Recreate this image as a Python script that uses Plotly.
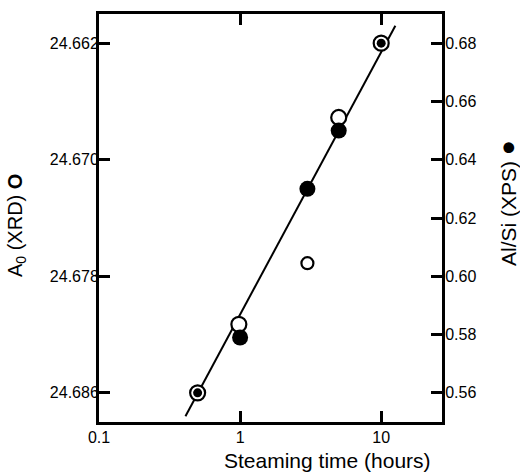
import plotly.graph_objects as go

# ---- data ----
xrd_time = [0.5, 0.98, 3, 5, 10]
a0_xrd = [24.686, 24.6813, 24.6771, 24.6671, 24.662]

xps_time = [0.5, 1, 3, 5, 10]
alsi_xps = [0.56, 0.579, 0.630, 0.650, 0.680]

fit_time = [0.41, 12.6]
fit_a0 = [24.6876, 24.6608]

x_tickvals = [0.1, 1, 10]
x_ticktext = ["0.1", "1", "10"]
a0_ticks = [24.662, 24.670, 24.678, 24.686]
alsi_ticks = [0.56, 0.58, 0.60, 0.62, 0.64, 0.66, 0.68]

FONT = "Liberation Sans, Arial, sans-serif"

FW, FH = 520, 472
L, T, R, B = 99, 14, 442, 422  # plot box in px

fig = go.Figure()

fig.add_trace(go.Scatter(
    x=fit_time, y=fit_a0, mode="lines",
    line=dict(color="black", width=2), yaxis="y", showlegend=False,
    hoverinfo="skip"))

fig.add_trace(go.Scatter(
    x=xrd_time, y=a0_xrd, mode="markers", yaxis="y", showlegend=False,
    marker=dict(symbol="circle", size=[15, 15, 12, 15, 15], color="white",
                opacity=1, line=dict(color="black", width=2.2))))

fig.add_trace(go.Scatter(
    x=xps_time, y=alsi_xps, mode="markers", yaxis="y2", showlegend=False,
    marker=dict(symbol="circle", size=[9, 16, 16, 16, 9], color="black",
                opacity=1, line=dict(width=0))))

axis_common = dict(
    showline=True, linecolor="black", linewidth=3,
    ticks="inside", ticklen=11, tickwidth=2.5, tickcolor="black",
    showgrid=False, zeroline=False,
    tickfont=dict(family=FONT, size=16, color="black"),
)

fig.update_layout(
    width=FW, height=FH,
    margin=dict(l=L, r=FW - R, t=T, b=FH - B),
    paper_bgcolor="white", plot_bgcolor="white",
    xaxis=dict(type="log", range=[-1, 1.431], tickvals=x_tickvals,
               ticktext=x_ticktext, mirror="ticks", ticklabelstandoff=-1,
               **axis_common),
    yaxis=dict(range=[24.688, 24.660], tickvals=a0_ticks,
               tickformat=".3f", ticklabelstandoff=-6, **axis_common),
    yaxis2=dict(range=[0.55, 0.69], tickvals=alsi_ticks, tickformat=".2f",
                overlaying="y", side="right", ticklabelstandoff=-3,
                **axis_common),
)


def px(x):
    return (x - L) / (R - L)


def py(y):
    return (B - y) / (B - T)


fig.add_annotation(text="Steaming time (hours)", xref="paper", yref="paper",
                   x=px(327), y=py(460), xanchor="center", yanchor="middle",
                   showarrow=False,
                   font=dict(family=FONT, size=21, color="black"))
fig.add_annotation(text="A<sub>0</sub> (XRD) <b>O</b>", xref="paper",
                   yref="paper", x=px(17), y=py(226), xanchor="center",
                   yanchor="middle", showarrow=False, textangle=-90,
                   font=dict(family=FONT, size=20, color="black"))
fig.add_annotation(text="Al/Si (XPS) <span style='font-size:25px'>●</span>",
                   xref="paper", yref="paper", x=px(507), y=py(203),
                   xanchor="center", yanchor="middle",
                   showarrow=False, textangle=-90,
                   font=dict(family=FONT, size=21, color="black"))

fig.write_html("out.html",
               config={"displayModeBar": False},
               post_script="document.body.style.margin='0';"
                           "document.body.style.overflow='hidden';")
